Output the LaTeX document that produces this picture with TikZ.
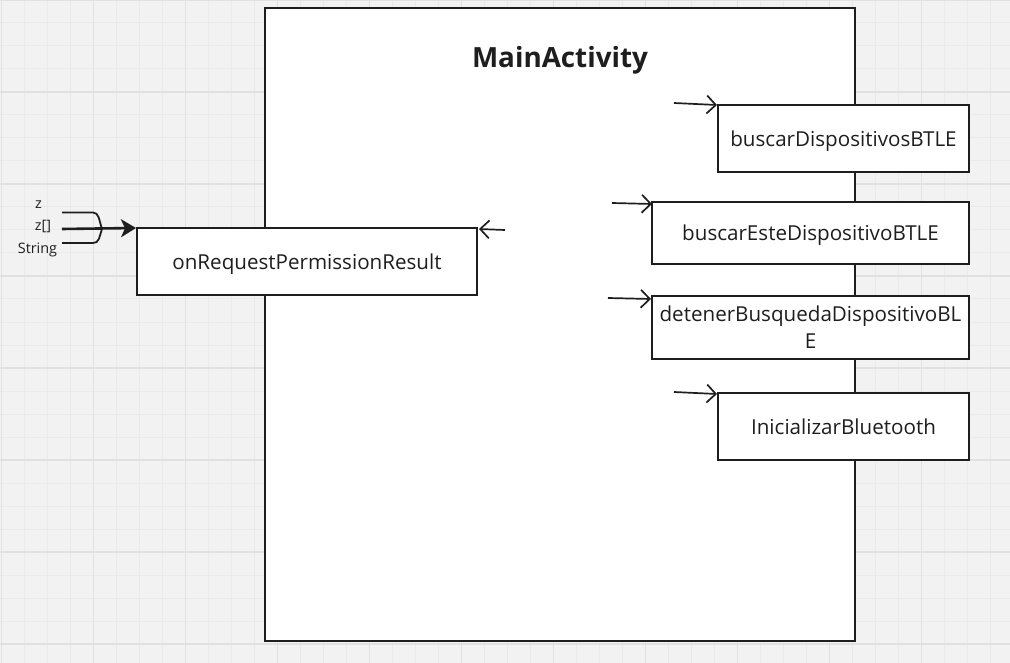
\documentclass[tikz,border=0pt]{standalone}
\usepackage{fontspec}
\setmainfont{Open Sans}
\usetikzlibrary{positioning,calc}
\usetikzlibrary{arrows.meta}
\definecolor{BoardGray}{RGB}{242,242,242}
\definecolor{GridMinor}{RGB}{234,234,234}
\definecolor{GridMajor}{RGB}{225,225,225}
\definecolor{InkGray}{RGB}{30,30,30}
\tikzset{
	method/.style={draw=InkGray,fill=white,line width=2pt,inner sep=3pt,align=center,text depth=0pt,
		text=InkGray,font=\fontsize{20.6}{27}\selectfont},
	call/.style={draw=InkGray,line width=1.7pt,-{Straight Barb[length=9pt,width=18pt,line width=1.7pt]}},
	param/.style={anchor=base,inner sep=0pt,text=InkGray,font=\fontsize{14.4}{16}\selectfont},
}
\begin{document}
\begin{tikzpicture}[x=1pt,y=-1pt]
			\useasboundingbox (0,0) rectangle (1010,663);
			% board
			\fill[BoardGray] (0,0) rectangle (1010,663);
			\foreach \i in {0,...,43} \draw[GridMinor,line width=1pt] (1.3+23*\i,0) -- (1.3+23*\i,663);
			\foreach \j in {0,...,28} \draw[GridMinor,line width=1pt] (0,23*\j) -- (1010,23*\j);
			\foreach \i in {0,...,10} \draw[GridMajor,line width=1.2pt] (1.3+92*\i,0) -- (1.3+92*\i,663);
			\foreach \j in {0,...,7} \draw[GridMajor,line width=1.2pt] (0,92*\j) -- (1010,92*\j);
			% class
			\node[draw=InkGray,fill=white,line width=2pt,minimum width=590pt,minimum height=633pt,inner sep=0pt] (main) at (560,324.5) {};
			\node[text=InkGray,font=\fontsize{27.8}{32}\selectfont\bfseries] (title) at (560,60.5) {MainActivity};
			% methods
			\node[method,minimum width=340pt,minimum height=67pt] (perm) at (307,261.5) {onRequestPermissionResult};
			\node[method,minimum width=251pt,minimum height=67pt] (bdev) at (843.5,138.5) {buscarDispositivosBTLE};
			\node[method,minimum width=317pt,minimum height=62pt] (beste) at (810.5,233) {buscarEsteDispositivoBTLE};
			\node[method,minimum width=317pt,minimum height=63pt] (deten) at (810.5,327.5) {detenerBusquedaDispositivoBL\\E};
			\node[method,minimum width=251pt,minimum height=67pt] (init) at (843.5,426.5) {InicializarBluetooth};
			% calls
			\coordinate (t0) at (505,230);
			\coordinate (t1) at (674,103);
			\coordinate (t2) at (612,203);
			\coordinate (t3) at (608,298);
			\coordinate (t4) at (674,392);
			\draw[call] (t0) -- ($(perm.north east)+(1,2)$);
			\draw[call] (t1) -- ($(bdev.north west)+(0,1)$);
			\draw[call] (t2) -- ($(beste.north west)+(1,3)$);
			\draw[call] (t3) -- ($(deten.north west)+(0,4)$);
			\draw[call] (t4) -- ($(init.north west)+(0,2)$);
			% parameters
			\node[param] (pz) at (38.5,209) {z};
			\node[param] (pza) at (43,231) {z[]};
			\node[param] (pstr) at (37.5,254) {String};
			\coordinate (inZ) at (62,212.5);
			\coordinate (inZa) at (62,229);
			\coordinate (inStr) at (62,243);
			\coordinate (tip) at (102,229);
			\draw[InkGray,line width=1.8pt] (inZ) -- ++(31,0) .. controls +(6,0) and +(-3,-9) .. (tip);
			\draw[InkGray,line width=1.8pt] (inStr) -- ++(31,0) .. controls +(6,0) and +(-3,9) .. (tip);
			\draw[InkGray,line width=2.6pt,-{Stealth[length=15pt,width=18pt,inset=4pt]}] (inZa) -- ($(perm.north west)+(0,1)$);
		\end{tikzpicture}
\end{document}
